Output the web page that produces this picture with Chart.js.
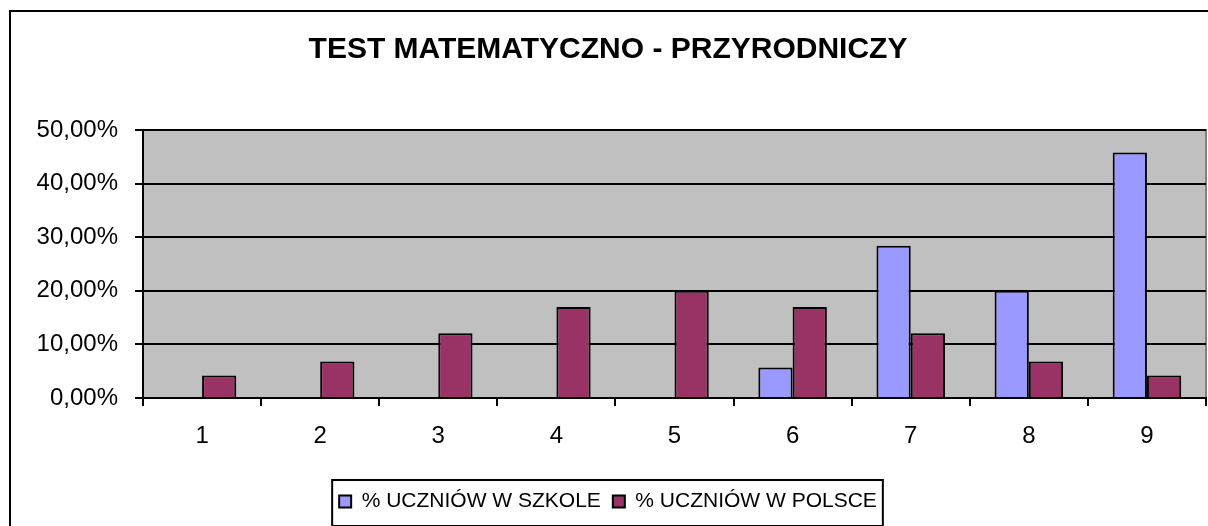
<!DOCTYPE html>
<html>
<head>
<meta charset="utf-8">
<script src="https://cdn.jsdelivr.net/npm/chart.js@4/dist/chart.umd.min.js"></script>
<style>
    html, body { margin: 0; padding: 0; background: #fff; overflow: hidden; }
    #wrap { position: relative; width: 1208px; height: 526px; }
    #frame { position: absolute; left: 9px; top: 10px; width: 1220px; height: 540px; border: 2px solid #000; box-sizing: border-box; }
    canvas { position: absolute; left: 0; top: 0; }
</style>
</head>
<body>
<div id="wrap">
    <div id="frame"></div>
    <canvas id="testChart" width="1208" height="526"></canvas>
</div>
<script>
const categories = ["1", "2", "3", "4", "5", "6", "7", "8", "9"];
const szkoleValues = [0, 0, 0, 0, 0, 0.057, 0.284, 0.200, 0.458];
const polsceValues = [0.042, 0.068, 0.121, 0.170, 0.200, 0.170, 0.121, 0.068, 0.042];
const titleText = "TEST MATEMATYCZNO - PRZYRODNICZY";

const FONT = "Arial, 'Liberation Sans', sans-serif";

// grey plot area + frame round the legend
const plotDecor = {
    id: "plotDecor",
    beforeDraw(chart) {
        const a = chart.chartArea;
        const c = chart.ctx;
        c.save();
        c.fillStyle = "#C0C0C0";
        c.fillRect(a.left, a.top, a.right - a.left, a.bottom - a.top);
        c.strokeStyle = "#808080";
        c.lineWidth = 2;
        c.strokeRect(a.left, a.top, a.right - a.left, a.bottom - a.top);
        c.restore();
    },
    afterDraw(chart) {
        const l = chart.legend;
        const boxes = l.legendHitBoxes;
        const first = boxes[0];
        const last = boxes[boxes.length - 1];
        const x1 = first.left - 7;
        const x2 = last.left + last.width + 6;
        const c = chart.ctx;
        c.save();
        c.strokeStyle = "#000";
        c.lineWidth = 2;
        c.strokeRect(x1, l.top + 1, x2 - x1, 46);
        c.restore();
    }
};

const ctx = document.getElementById("testChart").getContext("2d");

new Chart(ctx, {
    type: "bar",
    data: {
        labels: categories,
        datasets: [
            {
                label: "% UCZNIÓW W SZKOLE",
                data: szkoleValues,
                backgroundColor: "#9999FF",
                borderColor: "#000",
                borderWidth: 2,
                borderSkipped: "bottom"
            },
            {
                label: "% UCZNIÓW W POLSCE",
                data: polsceValues,
                backgroundColor: "#993366",
                borderColor: "#000",
                borderWidth: 2,
                borderSkipped: "bottom"
            }
        ]
    },
    options: {
        responsive: false,
        animation: false,
        layout: { padding: { left: 10, right: 2, top: 0, bottom: 4 } },
        datasets: { bar: { categoryPercentage: 0.58, barPercentage: 1.0 } },
        plugins: {
            title: {
                display: true,
                text: titleText,
                color: "#000",
                font: { family: FONT, size: 30, weight: "bold" },
                padding: { top: 32, bottom: 62 }
            },
            legend: {
                position: "bottom",
                labels: {
                    color: "#000",
                    font: { family: FONT, size: 21 },
                    boxWidth: 12,
                    boxHeight: 12,
                    padding: 12
                }
            },
            tooltip: { enabled: false }
        },
        scales: {
            x: {
                afterFit(scale) { scale.height = 81; },
                grid: {
                    offset: true,
                    drawOnChartArea: false,
                    color: "#000",
                    lineWidth: 2,
                    tickLength: 8
                },
                border: { color: "#000", width: 2 },
                ticks: {
                    color: "#000",
                    font: { family: FONT, size: 24 },
                    padding: 16
                }
            },
            y: {
                min: 0,
                max: 0.5,
                afterFit(scale) { scale.width = 133; },
                grid: {
                    color: "#000",
                    lineWidth: 2,
                    tickLength: 8
                },
                border: { color: "#000", width: 2 },
                ticks: {
                    stepSize: 0.1,
                    color: "#000",
                    font: { family: FONT, size: 24 },
                    padding: 17,
                    callback: v => (v * 100).toFixed(2).replace(".", ",") + "%"
                }
            }
        }
    },
    plugins: [plotDecor]
});
</script>
</body>
</html>
